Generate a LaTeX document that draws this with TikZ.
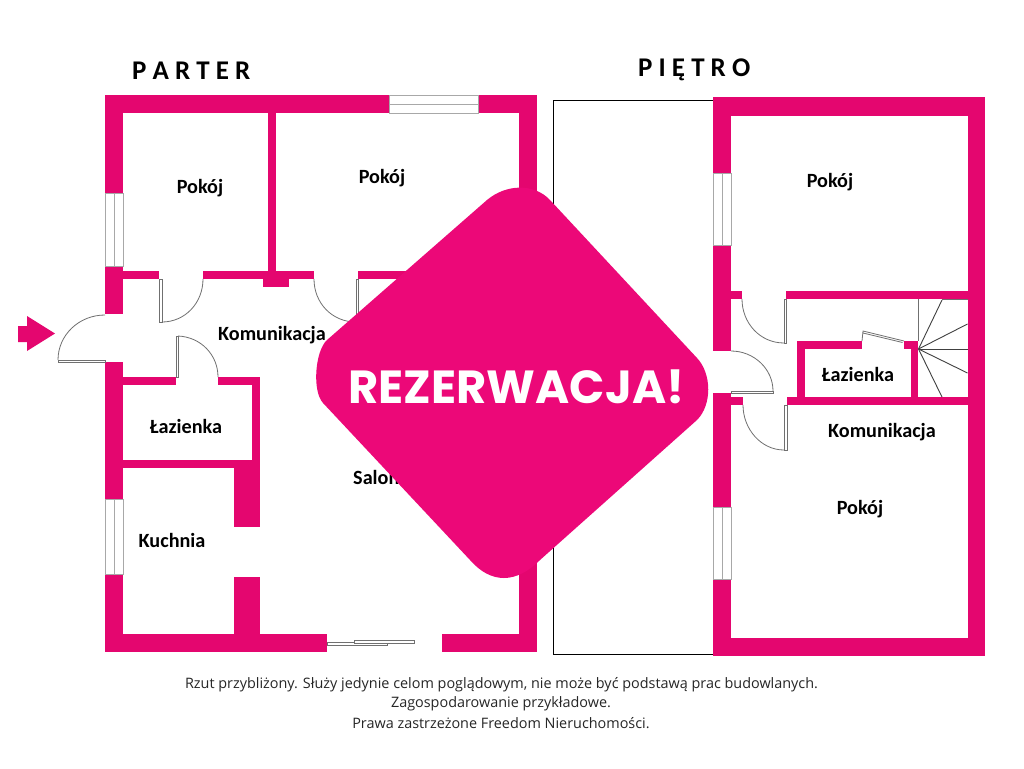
\documentclass[tikz,border=0pt]{standalone}
\usepackage{fontspec}
\setmainfont{Carlito}
\newfontfamily\notefont{Open Sans}
\newfontfamily\badgefont{Poppins}
\definecolor{wallc}{HTML}{E4066F}
\definecolor{badgec}{HTML}{EC0878}
\definecolor{linec}{HTML}{707070}
\definecolor{winc}{HTML}{A8A8A8}
\tikzset{
  wall/.style={fill=wallc},
  winline/.style={draw=winc,line width=1pt},
  doorline/.style={draw=linec,line width=.8pt},
  stairline/.style={draw=black!75,line width=.9pt},
  room/.style={font=\bfseries\fontsize{20.2}{22}\selectfont,text=black,inner sep=0pt},
  floorname/.style={font=\bfseries\fontsize{27}{29}\selectfont,text=black,inner sep=0pt},
  note/.style={font=\notefont\fontsize{14.4}{16}\selectfont,text=black!85,inner sep=0pt},
}
\begin{document}
\begin{tikzpicture}[x=1pt,y=-1pt]
\useasboundingbox (0,0) rectangle (1024,768);
\fill[white] (0,0) rectangle (1024,768);
% terrace
\draw[black,line width=1pt] (714,100) -- (553.5,100) -- (553.5,654) -- (714,654);
% ground floor outer walls
\fill[wall] (105,95) rectangle (389,113);
\fill[wall] (478,95) rectangle (537,113);
\fill[wall] (519,95) rectangle (537,652);
\fill[wall] (105,634) rectangle (327,652);
\fill[wall] (442,634) rectangle (537,652);
\fill[wall] (105,95) rectangle (123,193);
\fill[wall] (105,266) rectangle (123,314);
\fill[wall] (105,362) rectangle (123,499);
\fill[wall] (105,574) rectangle (123,652);
% ground floor inner walls
\fill[wall] (268,113) rectangle (276,271);
\fill[wall] (123,271) rectangle (159,279);
\fill[wall] (203,271) rectangle (314,279);
\fill[wall] (358,271) rectangle (430,279);
\fill[wall] (263,279) rectangle (289,286.5);
\fill[wall] (123,377) rectangle (176,385);
\fill[wall] (218,377) rectangle (260,385);
\fill[wall] (252,377) rectangle (260,468);
\fill[wall] (123,460) rectangle (260,468);
\fill[wall] (234,468) rectangle (260,527);
\fill[wall] (234,577) rectangle (260,640);
% ground floor windows
\draw[winline] (105,193) rectangle (123,266) (114,193) -- (114,266);
\draw[winline] (105,499) rectangle (123,574) (114,499) -- (114,574);
\draw[winline] (389,95.5) rectangle (478,113) (389,104) -- (478,104);
% sliding door
\draw[doorline] (327,642.5) rectangle (387,645.5);
\draw[doorline,fill=white] (354,640) rectangle (414,643);
% ground floor doors
\draw[doorline] (159,279) rectangle (162,322);
\draw[doorline] (203,279) .. controls (203,303) and (185,322) .. (162,322);
\draw[doorline] (356,279) rectangle (358.5,322);
\draw[doorline] (314,279) .. controls (314,303) and (332,322) .. (356,322);
\draw[doorline] (176,336) rectangle (178,377);
\draw[doorline] (178,336) .. controls (201,337) and (218,355) .. (218,377);
\draw[doorline] (58,360) rectangle (105,362);
\draw[doorline] (105,315) .. controls (79,315) and (58,335) .. (58,360);
% entrance arrow
\fill[wall] (18,326) -- (27,326) -- (27,316) -- (55,333.5) -- (27,351) -- (27,342) -- (18,342) -- cycle;
% upper floor outer walls
\fill[wall] (713,97) rectangle (985,116);
\fill[wall] (968,97) rectangle (985,656);
\fill[wall] (713,638) rectangle (985,656);
\fill[wall] (713,97) rectangle (731,173);
\fill[wall] (713,245) rectangle (731,351);
\fill[wall] (713,393) rectangle (731,507);
\fill[wall] (713,579) rectangle (731,656);
% upper floor inner walls
\fill[wall] (731,291) rectangle (742,299);
\fill[wall] (786,291) rectangle (968,299);
\fill[wall] (731,397) rectangle (743,405);
\fill[wall] (787,397) rectangle (968,405);
\fill[wall] (797,341) rectangle (862,348.5);
\fill[wall] (797,341) rectangle (805,397);
\fill[wall] (904,341) rectangle (918,348.5);
\fill[wall] (911,341) rectangle (918,397);
% upper floor windows
\draw[winline] (713,173) rectangle (731,245) (722,173) -- (722,245);
\draw[winline] (713,507) rectangle (731,579) (722,507) -- (722,579);
% upper floor doors
\draw[doorline] (784,299) rectangle (786.5,343);
\draw[doorline] (742,299) .. controls (742,323) and (760,343) .. (784,343);
\draw[doorline] (784,405) rectangle (787,450);
\draw[doorline] (743,405) .. controls (743,429) and (761,450) .. (784,450);
\draw[doorline] (731,391) rectangle (773,393);
\draw[doorline] (731,351) .. controls (754,351) and (773,369) .. (773,391);
\draw[doorline] (862,341) -- (863,331) -- (904,341) (863,333) -- (902.5,342.5);
% stairs
\draw[stairline,draw=linec] (918,299) -- (918,341);
\draw[stairline] (918.5,349) -- (942,300);
\draw[stairline] (918.5,349) -- (967.5,324);
\draw[stairline] (918.5,349) -- (967.5,349);
\draw[stairline] (918.5,349) -- (967.5,373);
\draw[stairline] (918.5,349) -- (942,397);
\draw[stairline,draw=linec] (942,299.5) -- (967.5,299.5);
% labels
\node[floorname,anchor=west] (parter) at (132,71) {P A R T E R};
\node[floorname,anchor=west] (pietro) at (638,70) {P I Ę T R O};
\node[room] (p1) at (200,188) {Pokój};
\node[room] (p2) at (382,178) {Pokój};
\node[room] (k1) at (272,335) {Komunikacja};
\node[room] (l1) at (186,426) {Łazienka};
\node[room] (ku) at (172,540) {Kuchnia};
\node[room,anchor=west] (sa) at (353,477) {Salon};
\node[room] (p3) at (830,182) {Pokój};
\node[room] (l2) at (858,374) {Łazienka};
\node[room] (k2) at (882,432) {Komunikacja};
\node[room] (p4) at (860,509) {Pokój};
% reservation badge
\fill[badgec] (327,340) -- (487,200) .. controls (506,184) and (534,183) .. (550,200)
  -- (697,358) .. controls (712,374) and (712,405) .. (697,420)
  -- (540,560) .. controls (516,584) and (491,584) .. (470,560)
  -- (323,403) .. controls (312,391) and (315,351) .. (327,340) -- cycle;
\node[font=\badgefont\bfseries\fontsize{46.4}{50}\selectfont,text=white,inner sep=0pt] (rez) at (516.5,387) {REZERWACJA!};
% note
\node[note] (n1) at (501.5,685) {Rzut przybliżony. Służy jedynie celom poglądowym, nie może być podstawą prac budowlanych.};
\node[note] (n2) at (501,704) {Zagospodarowanie przykładowe.};
\node[note] (n3) at (501,723.5) {Prawa zastrzeżone Freedom Nieruchomości.};
\end{tikzpicture}
\end{document}
